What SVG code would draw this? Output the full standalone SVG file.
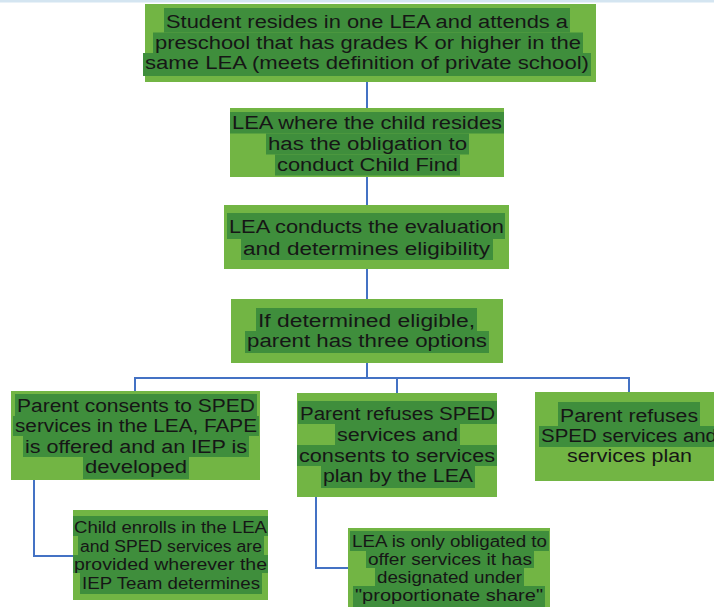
<svg xmlns="http://www.w3.org/2000/svg" width="714" height="607" viewBox="0 0 714 607">
<style>
.box{fill:#72b544}
.hl{fill:#3f8e3c}
.t{font-family:"Liberation Sans","Noto Sans",sans-serif;font-size:18px;fill:#161616}
.s{font-size:16px}
.c{fill:none;stroke:#4472c4;stroke-width:2}
</style>
<rect x="0" y="0" width="714" height="607" fill="#ffffff"/>
<rect x="0" y="0" width="714" height="2.5" fill="#d4e5f1"/>
<g id="connectors">
<path class="c" d="M367 82V108"/>
<path class="c" d="M367 177V205"/>
<path class="c" d="M367 269V299"/>
<path class="c" d="M367 363V378"/>
<path class="c" d="M135 391V378H629V392"/>
<path class="c" d="M397 378V393"/>
<path class="c" d="M34 480V556H73"/>
<path class="c" d="M316 497V568H348"/>
</g>
<g id="n1">
<rect class="box" x="145" y="4" width="451" height="78"/>
<rect class="hl" x="164" y="8" width="406" height="24.5"/>
<rect class="hl" x="153" y="32.5" width="430" height="20.5"/>
<rect class="hl" x="143" y="53" width="448" height="23"/>
<text class="t" x="166" y="28" textLength="402" lengthAdjust="spacingAndGlyphs">Student resides in one LEA and attends a</text>
<text class="t" x="155" y="48.5" textLength="426" lengthAdjust="spacingAndGlyphs">preschool that has grades K or higher in the</text>
<text class="t" x="145" y="69" textLength="444" lengthAdjust="spacingAndGlyphs">same LEA (meets definition of private school)</text>
</g>
<g id="n2">
<rect class="box" x="230" y="108" width="274" height="69"/>
<rect class="hl" x="230" y="112" width="274" height="21.5"/>
<rect class="hl" x="266" y="133.5" width="203" height="21"/>
<rect class="hl" x="275" y="154.5" width="185" height="21"/>
<text class="t" x="232" y="129" textLength="270" lengthAdjust="spacingAndGlyphs">LEA where the child resides</text>
<text class="t" x="268" y="150" textLength="199" lengthAdjust="spacingAndGlyphs">has the obligation to</text>
<text class="t" x="277" y="170.5" textLength="181" lengthAdjust="spacingAndGlyphs">conduct Child Find</text>
</g>
<g id="n3">
<rect class="box" x="224" y="205" width="285" height="64"/>
<rect class="hl" x="227" y="213" width="278" height="26"/>
<rect class="hl" x="241" y="239" width="252" height="21"/>
<text class="t" x="229" y="232.5" textLength="275" lengthAdjust="spacingAndGlyphs">LEA conducts the evaluation</text>
<text class="t" x="243" y="255" textLength="247" lengthAdjust="spacingAndGlyphs">and determines eligibility</text>
</g>
<g id="n4">
<rect class="box" x="231" y="299" width="272" height="64"/>
<rect class="hl" x="256" y="308" width="221" height="23"/>
<rect class="hl" x="245" y="331" width="244" height="22"/>
<text class="t" x="258" y="326.5" textLength="217" lengthAdjust="spacingAndGlyphs">If determined eligible,</text>
<text class="t" x="247" y="347" textLength="240" lengthAdjust="spacingAndGlyphs">parent has three options</text>
</g>
<g id="n5">
<rect class="box" x="11" y="391" width="249" height="89"/>
<rect class="hl" x="15" y="394" width="242" height="22"/>
<rect class="hl" x="13" y="416" width="246" height="20"/>
<rect class="hl" x="23" y="436" width="226" height="21"/>
<rect class="hl" x="83" y="457" width="106" height="22"/>
<text class="t" x="17" y="411.5" textLength="238" lengthAdjust="spacingAndGlyphs">Parent consents to SPED</text>
<text class="t" x="15" y="432" textLength="242" lengthAdjust="spacingAndGlyphs">services in the LEA, FAPE</text>
<text class="t" x="25" y="452.5" textLength="222" lengthAdjust="spacingAndGlyphs">is offered and an IEP is</text>
<text class="t" x="85" y="473" textLength="102" lengthAdjust="spacingAndGlyphs">developed</text>
</g>
<g id="n6">
<rect class="box" x="73" y="510" width="195" height="90"/>
<rect class="hl" x="73" y="516" width="195" height="20"/>
<rect class="hl" x="78" y="536" width="186" height="19"/>
<rect class="hl" x="73" y="555" width="195" height="18"/>
<rect class="hl" x="80" y="573" width="182" height="21"/>
<text class="t s" x="74" y="533" textLength="193" lengthAdjust="spacingAndGlyphs">Child enrolls in the LEA</text>
<text class="t s" x="80" y="551.5" textLength="182" lengthAdjust="spacingAndGlyphs">and SPED services are</text>
<text class="t s" x="74" y="570" textLength="193" lengthAdjust="spacingAndGlyphs">provided wherever the</text>
<text class="t s" x="82" y="588.5" textLength="178" lengthAdjust="spacingAndGlyphs">IEP Team determines</text>
</g>
<g id="n7">
<rect class="box" x="297" y="393" width="200" height="104"/>
<rect class="hl" x="298" y="401" width="199" height="23"/>
<rect class="hl" x="335" y="424" width="125" height="21"/>
<rect class="hl" x="297" y="445" width="200" height="21"/>
<rect class="hl" x="321" y="466" width="154" height="22"/>
<text class="t" x="300" y="420" textLength="195" lengthAdjust="spacingAndGlyphs">Parent refuses SPED</text>
<text class="t" x="337" y="440.5" textLength="121" lengthAdjust="spacingAndGlyphs">services and</text>
<text class="t" x="299" y="461.5" textLength="196" lengthAdjust="spacingAndGlyphs">consents to services</text>
<text class="t" x="323" y="482" textLength="150" lengthAdjust="spacingAndGlyphs">plan by the LEA</text>
</g>
<g id="n8">
<rect class="box" x="348" y="528" width="202" height="85"/>
<rect class="hl" x="350" y="531" width="199" height="20"/>
<rect class="hl" x="366" y="551" width="168" height="17"/>
<rect class="hl" x="375" y="568" width="149" height="18"/>
<rect class="hl" x="353" y="586" width="192" height="21"/>
<text class="t s" x="352" y="546.5" textLength="195" lengthAdjust="spacingAndGlyphs">LEA is only obligated to</text>
<text class="t s" x="368" y="564.5" textLength="164" lengthAdjust="spacingAndGlyphs">offer services it has</text>
<text class="t s" x="377" y="582.5" textLength="145" lengthAdjust="spacingAndGlyphs">designated under</text>
<text class="t s" x="355" y="600.5" textLength="188" lengthAdjust="spacingAndGlyphs">"proportionate share"</text>
</g>
<g id="n9">
<rect class="box" x="535" y="392" width="200" height="89"/>
<rect class="hl" x="558" y="402" width="142" height="24"/>
<rect class="hl" x="539" y="426" width="180" height="21"/>
<text class="t" x="560" y="421.5" textLength="138" lengthAdjust="spacingAndGlyphs">Parent refuses</text>
<text class="t" x="541" y="441.5" textLength="176" lengthAdjust="spacingAndGlyphs">SPED services and</text>
<text class="t" x="567" y="461.5" textLength="125" lengthAdjust="spacingAndGlyphs">services plan</text>
</g>
</svg>
